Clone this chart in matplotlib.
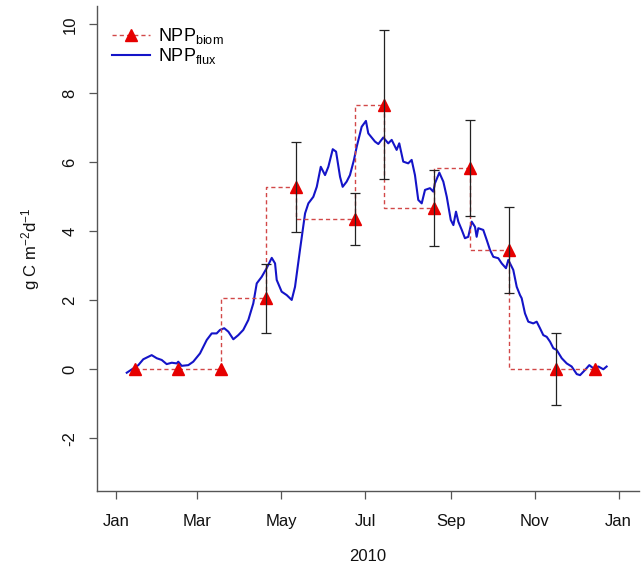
import numpy as np
import matplotlib
matplotlib.use("Agg")
import matplotlib.pyplot as plt
import matplotlib.dates as mdates
from matplotlib.lines import Line2D
from datetime import datetime

plt.rcParams['font.family'] = ['Liberation Sans', 'DejaVu Sans']
plt.rcParams['mathtext.fontset'] = 'custom'
plt.rcParams['mathtext.rm'] = 'Liberation Sans'
plt.rcParams['mathtext.it'] = 'Liberation Sans'

# ---- data (days since 2010-01-01) ----
biom_day = [13.8, 44.8, 76.3, 108.9, 130.5, 173.2, 194.8, 231.2, 257.1, 285.6, 319.3, 347.9]
biom_val = [0.0, 0.0, 0.0, 2.06, 5.29, 4.35, 7.67, 4.67, 5.83, 3.46, 0.0, 0.0]
biom_err = [0.0, 0.0, 0.0, 1.00, 1.30, 0.76, 2.16, 1.10, 1.40, 1.24, 1.04, 0.0]

flux_day = [7.8, 16.2, 19.8, 25.9, 29.6, 33.2, 36.8, 40.5, 44.1, 45.2, 47.7, 52.5, 56.1,
            61.0, 65.9, 69.5, 73.1, 75.5, 78.6, 81.6, 85.2, 88.8, 92.4, 96.1, 99.7,
            102.2, 105.8, 109.4, 113.1, 115.5, 116.7, 120.3, 124.0, 127.6, 130.0,
            133.6, 137.3, 139.7, 143.3, 145.8, 148.7, 151.8, 154.2, 157.4, 159.8,
            162.7, 164.6, 167.5, 169.9, 172.8, 174.8, 178.4, 181.5, 183.2, 188.1,
            190.5, 194.1, 197.7, 200.2, 203.8, 205.7, 208.6, 212.2, 214.7, 217.1,
            219.5, 222.0, 224.4, 228.0, 230.4, 231.6, 234.8, 237.7, 240.2, 243.1,
            245.0, 246.9, 248.6, 251.1, 253.4, 255.8, 258.3, 260.7, 261.9, 263.1,
            266.7, 269.2, 271.6, 274.0, 277.6, 280.1, 283.2, 284.9, 288.5, 291.0,
            293.4, 294.6, 297.0, 299.4, 303.0, 305.5, 307.9, 310.3, 312.8, 315.2,
            317.6, 320.0, 323.7, 327.3, 330.9, 334.6, 337.0, 340.6, 343.7, 346.6,
            350.3, 353.9, 356.3]
flux_val = [-0.10, 0.12, 0.29, 0.41, 0.32, 0.27, 0.15, 0.19, 0.17, 0.22, 0.10, 0.12, 0.22,
            0.46, 0.85, 1.04, 1.04, 1.14, 1.19, 1.09, 0.87, 0.99, 1.14, 1.43, 1.91,
            2.49, 2.68, 2.93, 3.23, 3.07, 2.59, 2.25, 2.15, 2.01, 2.39,
            3.46, 4.52, 4.81, 5.00, 5.29, 5.87, 5.63, 5.87, 6.38, 6.31,
            5.58, 5.29, 5.44, 5.63, 6.07, 6.45, 7.03, 7.20, 6.84, 6.60,
            6.53, 6.72, 6.55, 6.65, 6.36, 6.55, 6.02, 5.97, 6.07, 5.63,
            4.91, 4.81, 5.20, 5.25, 5.15, 5.39, 5.70, 5.44, 5.00, 4.33,
            4.18, 4.57, 4.28, 4.04, 3.80, 3.84, 4.28, 4.13, 3.84, 4.09,
            4.04, 3.75, 3.46, 3.26, 3.22, 3.07, 2.93, 3.17, 2.88, 2.39,
            2.15, 2.06, 1.62, 1.38, 1.33, 1.38, 1.19, 0.99, 0.94, 0.80,
            0.61, 0.56, 0.32, 0.17, 0.08, -0.14, -0.17, -0.02, 0.12, 0.03,
            0.08, 0.00, 0.08]

month_ticks = ['2010-01-01', '2010-03-01', '2010-05-01', '2010-07-01',
               '2010-09-01', '2010-11-01', '2011-01-01']
y_ticks = [-2, 0, 2, 4, 6, 8, 10]

base = mdates.date2num(datetime(2010, 1, 1))
bx = base + np.array(biom_day)
by = np.array(biom_val)
be = np.array(biom_err)
fx = base + np.array(flux_day)
fy = np.array(flux_val)

W, H = 641, 569
fig = plt.figure(figsize=(W / 100, H / 100), dpi=100)
left, right, bottom, top = 97, 639, 490.7, 6.4
ax = fig.add_axes([left / W, (H - bottom) / H, (right - left) / W, (bottom - top) / H])

red_line = '#d24848'
tri_red = '#e60000'
blue = '#1414c8'

ax.plot(fx, fy, color=blue, lw=1.5, zorder=2)
ax.plot(bx, by, drawstyle='steps-pre', color=red_line, lw=1.0,
        dashes=(3, 2.2), zorder=3)
ax.plot(bx, by, ls='none', marker='^', ms=8.5, color=tri_red, mec=tri_red, zorder=4)
m = be > 0
ax.errorbar(bx[m], by[m], yerr=be[m], fmt='none', ecolor='#222222',
            elinewidth=0.9, capsize=3.8, capthick=0.9, zorder=5)

ax.set_xlim(base - 13.8, base + 379.8)
ax.set_ylim(-3.52, 10.52)

ax.set_xticks([mdates.date2num(datetime.strptime(s, '%Y-%m-%d')) for s in month_ticks])
ax.xaxis.set_major_formatter(mdates.DateFormatter('%b'))
ax.set_yticks(y_ticks)
ax.set_yticklabels([str(v) for v in y_ticks], rotation=90, va='center')

for s in ['top', 'right']:
    ax.spines[s].set_visible(False)
for s in ['left', 'bottom']:
    ax.spines[s].set_color('#555555')
    ax.spines[s].set_linewidth(1.0)
ax.tick_params(axis='both', direction='out', length=6, width=0.9, color='#555555',
               labelsize=12, labelcolor='#111111')
ax.tick_params(axis='x', pad=11)
ax.tick_params(axis='y', pad=8)

ax.set_xlabel('2010', fontsize=12, labelpad=14, color='#111111')
ax.set_ylabel(r'g C m$^{-2}$d$^{-1}$', fontsize=12, labelpad=15, color='#111111')

h1 = Line2D([], [], color=red_line, lw=1.0, dashes=(3, 2.2), marker='^', ms=8.5,
            mfc=tri_red, mec=tri_red)
h2 = Line2D([], [], color=blue, lw=1.5)
leg = ax.legend([h1, h2], [r'NPP$_{\mathrm{biom}}$', r'NPP$_{\mathrm{flux}}$'],
                loc='upper left', bbox_to_anchor=(0.005, 0.985), frameon=False,
                fontsize=13, handlelength=2.1, handletextpad=0.45, labelspacing=0.0,
                borderaxespad=0.3)

fig.savefig('out.png', dpi=100)
